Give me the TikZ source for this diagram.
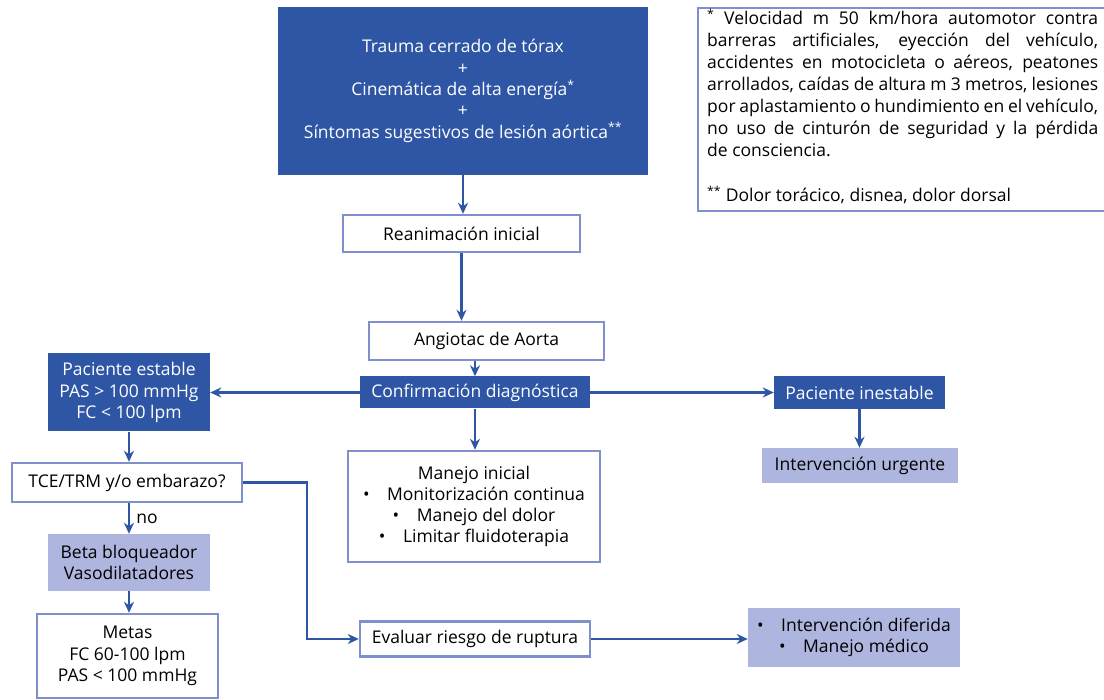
\documentclass[tikz,border=0pt]{standalone}
\usepackage{fontspec}
\setmainfont{Open Sans}
\usetikzlibrary{arrows.meta}
\definecolor{dkblue}{HTML}{2E56A5}
\definecolor{ltblue}{HTML}{AEB6DF}
\definecolor{bdblue}{HTML}{8090CC}
\begin{document}
\begin{tikzpicture}[x=1pt,y=-1pt,
  every node/.style={font=\fontsize{17.5}{21.3}\selectfont, inner sep=0pt, align=center},
  darkbox/.style={fill=dkblue, text=white},
  whitebox/.style={draw=bdblue, line width=2.4pt, fill=white, text=black},
  lightbox/.style={fill=ltblue, text=black},
  conn/.style={draw=dkblue, line width=2.6pt, -{Stealth[length=11pt,width=10pt,inset=3.5pt]}}]
\useasboundingbox (0,0) rectangle (1104,700);
% nodes
\node[darkbox, minimum width=370pt, minimum height=168pt] (top) at (463,91)
  {Trauma cerrado de tórax\\+\\Cinemática de alta energía\textsuperscript{*}\\+\\Síntomas sugestivos de lesión aórtica\textsuperscript{**}};
\node[whitebox, minimum width=237pt, minimum height=37pt] (reanim) at (461.5,233.5) {Reanimación inicial};
\node[whitebox, minimum width=235pt, minimum height=38pt] (angio) at (486.5,341) {Angiotac de Aorta};
\node[darkbox, minimum width=230pt, minimum height=32pt] (confirm) at (475,392.5) {Confirmación diagnóstica};
\node[darkbox, minimum width=162pt, minimum height=78pt] (estable) at (129,392.5) {Paciente estable\\PAS > 100 mmHg\\FC < 100 lpm};
\node[darkbox, minimum width=171pt, minimum height=33pt] (inestable) at (859.5,392.5) {Paciente inestable};
\node[lightbox, minimum width=196pt, minimum height=35pt] (urgente) at (860,465.5) {Intervención urgente};
\node[whitebox, minimum width=252pt, minimum height=111pt] (manejo) at (474,506.5)
  {Manejo inicial\\\textbullet\quad Monitorización continua\\\textbullet\quad Manejo del dolor\\\textbullet\quad Limitar fluidoterapia};
\node[whitebox, minimum width=230pt, minimum height=39pt] (tce) at (127,482.5) {TCE/TRM y/o embarazo?};
\node[lightbox, minimum width=162pt, minimum height=57pt] (beta) at (129,562.5) {Beta bloqueador\\Vasodilatadores};
\node[whitebox, minimum width=181pt, minimum height=84pt] (metas) at (127.5,656) {Metas\\FC 60-100 lpm\\PAS < 100 mmHg};
\node[whitebox, minimum width=230pt, minimum height=35pt] (evaluar) at (475,639) {Evaluar riesgo de ruptura};
\node[lightbox, minimum width=212pt, minimum height=59pt] (diferida) at (854,637.5)
  {\textbullet\quad Intervención diferida\\\textbullet\quad Manejo médico};
% footnote box
\draw[draw=bdblue, line width=2.4pt] (1115,8) -- (698,8) -- (698,211) -- (1115,211);
\node[anchor=north west, text width=391pt, align=justify, font=\fontsize{17.5}{22}\selectfont] (note) at (707,9)
  {\hyphenpenalty=10000\textsuperscript{*} Velocidad m 50 km/hora automotor contra\linebreak
  barreras artificiales, eyección del vehículo,\linebreak
  accidentes en motocicleta o aéreos, peatones\linebreak
  arrollados, caídas de altura m 3 metros, lesiones\linebreak
  por aplastamiento o hundimiento en el vehículo,\linebreak
  no uso de cinturón de seguridad y la pérdida\linebreak
  de consciencia.\par\vspace{23pt}
  \raggedright\textsuperscript{**} Dolor torácico, disnea, dolor dorsal\par};
% connectors
\coordinate (bend) at (307,482.5);
\draw[conn] (top.south) -- (top.south |- reanim.north);
\draw[conn] (reanim.south) -- (reanim.south |- angio.north);
\draw[conn] (confirm.north |- angio.south) -- (confirm.north);
\draw[conn] (confirm.west) -- (confirm.west -| estable.east);
\draw[conn] (confirm.east) -- (confirm.east -| inestable.west);
\draw[conn] (confirm.south) -- (confirm.south |- manejo.north);
\draw[conn] (inestable.south) -- (inestable.south |- urgente.north);
\draw[conn] (estable.south) -- (estable.south |- tce.north);
\draw[conn] (estable.south |- tce.south) -- node[right=6pt, text=black] {no} (beta.north);
\draw[conn] (beta.south) -- (beta.south |- metas.north);
\draw[conn] (tce.east) -- (bend) |- (evaluar.west);
\draw[conn] (evaluar.east) -- (evaluar.east -| diferida.west);
\end{tikzpicture}
\end{document}
